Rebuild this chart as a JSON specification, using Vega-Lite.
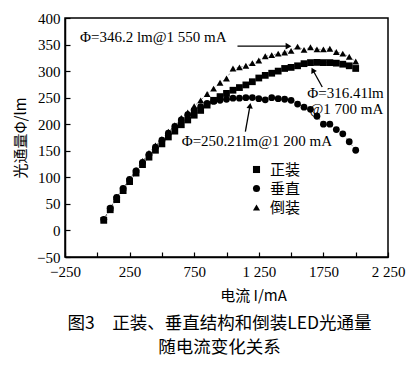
{
  "$schema": "https://vega.github.io/schema/vega-lite/v6.json",
  "width": 323,
  "height": 239,
  "autosize": "none",
  "padding": {"left": 65, "top": 18, "right": 30, "bottom": 120},
  "background": "white",
  "config": {
    "view": {"stroke": "black", "strokeWidth": 1.5},
    "axis": {
      "domainColor": "black", "domainWidth": 1.5, "tickColor": "black", "tickWidth": 1.2,
      "labelFont": "Liberation Serif", "labelFontSize": 15, "labelColor": "black",
      "titleFont": "Noto Sans CJK SC", "titleFontSize": 15, "titleFontWeight": "normal", "titleColor": "black",
      "grid": false, "labelOverlap": false, "labelFlush": false, "labelBound": false
    }
  },
  "title": {
    "text": ["图3　正装、垂直结构和倒装LED光通量", "随电流变化关系"],
    "orient": "bottom", "anchor": "middle", "offset": 12, "dx": -7,
    "font": "Noto Sans CJK SC", "fontSize": 17.5, "fontWeight": "normal", "lineHeight": 24, "color": "black"
  },
  "datasets": {
    "flux": [
      {"I": 50, "s": "正装", "F": 19}, {"I": 100, "s": "正装", "F": 39}, {"I": 150, "s": "正装", "F": 58}, {"I": 200, "s": "正装", "F": 75},
      {"I": 250, "s": "正装", "F": 92}, {"I": 300, "s": "正装", "F": 108}, {"I": 350, "s": "正装", "F": 124}, {"I": 400, "s": "正装", "F": 138},
      {"I": 450, "s": "正装", "F": 151}, {"I": 500, "s": "正装", "F": 163}, {"I": 550, "s": "正装", "F": 176}, {"I": 600, "s": "正装", "F": 187},
      {"I": 650, "s": "正装", "F": 199}, {"I": 700, "s": "正装", "F": 208}, {"I": 750, "s": "正装", "F": 217}, {"I": 800, "s": "正装", "F": 226},
      {"I": 850, "s": "正装", "F": 236}, {"I": 900, "s": "正装", "F": 245}, {"I": 950, "s": "正装", "F": 252}, {"I": 1000, "s": "正装", "F": 258},
      {"I": 1050, "s": "正装", "F": 264}, {"I": 1100, "s": "正装", "F": 269}, {"I": 1150, "s": "正装", "F": 274}, {"I": 1200, "s": "正装", "F": 280},
      {"I": 1250, "s": "正装", "F": 287}, {"I": 1300, "s": "正装", "F": 292}, {"I": 1350, "s": "正装", "F": 296}, {"I": 1400, "s": "正装", "F": 300},
      {"I": 1450, "s": "正装", "F": 305}, {"I": 1500, "s": "正装", "F": 307}, {"I": 1550, "s": "正装", "F": 310}, {"I": 1600, "s": "正装", "F": 314},
      {"I": 1650, "s": "正装", "F": 316}, {"I": 1700, "s": "正装", "F": 316.41}, {"I": 1750, "s": "正装", "F": 316}, {"I": 1800, "s": "正装", "F": 316},
      {"I": 1850, "s": "正装", "F": 315}, {"I": 1900, "s": "正装", "F": 313}, {"I": 1950, "s": "正装", "F": 310}, {"I": 2000, "s": "正装", "F": 305},

      {"I": 50, "s": "垂直", "F": 21}, {"I": 100, "s": "垂直", "F": 42}, {"I": 150, "s": "垂直", "F": 62}, {"I": 200, "s": "垂直", "F": 79},
      {"I": 250, "s": "垂直", "F": 96}, {"I": 300, "s": "垂直", "F": 112}, {"I": 350, "s": "垂直", "F": 128}, {"I": 400, "s": "垂直", "F": 143},
      {"I": 450, "s": "垂直", "F": 157}, {"I": 500, "s": "垂直", "F": 170}, {"I": 550, "s": "垂直", "F": 183}, {"I": 600, "s": "垂直", "F": 196},
      {"I": 650, "s": "垂直", "F": 208}, {"I": 700, "s": "垂直", "F": 218}, {"I": 750, "s": "垂直", "F": 226}, {"I": 800, "s": "垂直", "F": 233},
      {"I": 850, "s": "垂直", "F": 239}, {"I": 900, "s": "垂直", "F": 243}, {"I": 950, "s": "垂直", "F": 245}, {"I": 1000, "s": "垂直", "F": 247},
      {"I": 1050, "s": "垂直", "F": 249}, {"I": 1100, "s": "垂直", "F": 249}, {"I": 1150, "s": "垂直", "F": 250}, {"I": 1200, "s": "垂直", "F": 250.21},
      {"I": 1250, "s": "垂直", "F": 248}, {"I": 1300, "s": "垂直", "F": 246}, {"I": 1350, "s": "垂直", "F": 250}, {"I": 1400, "s": "垂直", "F": 248},
      {"I": 1450, "s": "垂直", "F": 247}, {"I": 1500, "s": "垂直", "F": 245}, {"I": 1550, "s": "垂直", "F": 238}, {"I": 1600, "s": "垂直", "F": 232},
      {"I": 1650, "s": "垂直", "F": 228}, {"I": 1700, "s": "垂直", "F": 215}, {"I": 1750, "s": "垂直", "F": 200}, {"I": 1800, "s": "垂直", "F": 200},
      {"I": 1850, "s": "垂直", "F": 190}, {"I": 1900, "s": "垂直", "F": 182}, {"I": 1950, "s": "垂直", "F": 167}, {"I": 2000, "s": "垂直", "F": 151},

      {"I": 50, "s": "倒装", "F": 21}, {"I": 100, "s": "倒装", "F": 42}, {"I": 150, "s": "倒装", "F": 63}, {"I": 200, "s": "倒装", "F": 80},
      {"I": 250, "s": "倒装", "F": 97}, {"I": 300, "s": "倒装", "F": 114}, {"I": 350, "s": "倒装", "F": 131}, {"I": 400, "s": "倒装", "F": 146},
      {"I": 450, "s": "倒装", "F": 160}, {"I": 500, "s": "倒装", "F": 172}, {"I": 550, "s": "倒装", "F": 186}, {"I": 600, "s": "倒装", "F": 198},
      {"I": 650, "s": "倒装", "F": 212}, {"I": 700, "s": "倒装", "F": 222}, {"I": 750, "s": "倒装", "F": 234}, {"I": 800, "s": "倒装", "F": 245},
      {"I": 850, "s": "倒装", "F": 257}, {"I": 900, "s": "倒装", "F": 267}, {"I": 950, "s": "倒装", "F": 278}, {"I": 1000, "s": "倒装", "F": 286},
      {"I": 1050, "s": "倒装", "F": 305}, {"I": 1100, "s": "倒装", "F": 307}, {"I": 1150, "s": "倒装", "F": 310}, {"I": 1200, "s": "倒装", "F": 315},
      {"I": 1250, "s": "倒装", "F": 320}, {"I": 1300, "s": "倒装", "F": 328}, {"I": 1350, "s": "倒装", "F": 330}, {"I": 1400, "s": "倒装", "F": 333},
      {"I": 1450, "s": "倒装", "F": 335}, {"I": 1500, "s": "倒装", "F": 338}, {"I": 1550, "s": "倒装", "F": 346.2}, {"I": 1600, "s": "倒装", "F": 340},
      {"I": 1650, "s": "倒装", "F": 345}, {"I": 1700, "s": "倒装", "F": 341}, {"I": 1750, "s": "倒装", "F": 341}, {"I": 1800, "s": "倒装", "F": 342},
      {"I": 1850, "s": "倒装", "F": 336}, {"I": 1900, "s": "倒装", "F": 333}, {"I": 1950, "s": "倒装", "F": 327}, {"I": 2000, "s": "倒装", "F": 318}
    ],
    "labels": [
      {"I": -134, "F": 364, "t": "Φ=346.2 lm@1 550 mA"},
      {"I": 1625, "F": 259, "t": "Φ=316.41lm"},
      {"I": 1642, "F": 229, "t": "@1 700 mA"},
      {"I": 653, "F": 169, "t": "Φ=250.21lm@1 200 mA"}
    ],
    "arrows": [
      {"I": 1085, "F": 347, "I2": 1480, "F2": 347},
      {"I": 1741, "F": 270, "I2": 1668, "F2": 302},
      {"I": 1146, "F": 186, "I2": 1182, "F2": 235}
    ]
  },
  "layer": [
    {
      "data": {"name": "flux"},
      "mark": {"type": "line", "color": "#444", "strokeWidth": 0.8, "strokeDash": [2, 2], "opacity": 0.7},
      "encoding": {
        "x": {"field": "I", "type": "quantitative", "scale": {"domain": [-250, 2250], "nice": false},
          "axis": {"title": "电流 I/mA", "values": [-250, 0, 250, 500, 750, 1000, 1250, 1500, 1750, 2000, 2250], "tickCount": 30,
            "tickSize": -5, "labelPadding": 12, "titlePadding": 9, "titleX": 188, "titleAlign": "center", "titleAnchor": "middle",
            "labelExpr": "datum.value == -250 ? '−250' : datum.value == 1250 ? '1 250' : datum.value == 2250 ? '2 250' : (datum.value == 250 || datum.value == 750 || datum.value == 1750) ? toString(datum.value) : ''"}},
        "y": {"field": "F", "type": "quantitative", "scale": {"domain": [-50, 400], "nice": false},
          "axis": {"title": "光通量Φ/lm", "values": [-50, 0, 50, 100, 150, 200, 250, 300, 350, 400], "tickCount": 30,
            "tickSize": -5, "labelPadding": 10, "titlePadding": 8,
            "labelExpr": "datum.value < 0 ? '−50' : toString(datum.value)"}},
        "detail": {"field": "s"}
      }
    },
    {
      "data": {"name": "flux"},
      "mark": {"type": "point", "filled": true, "color": "black", "opacity": 1, "size": 46},
      "encoding": {
        "x": {"field": "I", "type": "quantitative"},
        "y": {"field": "F", "type": "quantitative"},
        "shape": {"field": "s", "type": "nominal",
          "scale": {"domain": ["正装", "垂直", "倒装"], "range": ["square", "circle", "triangle-up"]},
          "legend": {"title": null, "orient": "none", "legendX": 184, "legendY": 144,
            "labelFont": "Noto Sans CJK SC", "labelFontSize": 15, "labelColor": "black",
            "symbolFillColor": "black", "symbolStrokeColor": "black", "symbolSize": 50, "symbolOpacity": 1,
            "rowPadding": 3, "labelOffset": 6, "padding": 0}}
      }
    },
    {
      "data": {"name": "labels"},
      "mark": {"type": "text", "align": "left", "baseline": "middle", "font": "Liberation Serif", "fontSize": 15, "color": "black"},
      "encoding": {
        "x": {"field": "I", "type": "quantitative"},
        "y": {"field": "F", "type": "quantitative"},
        "text": {"field": "t"}
      }
    },
    {
      "data": {"name": "arrows"},
      "mark": {"type": "rule", "color": "black", "strokeWidth": 1.3},
      "encoding": {
        "x": {"field": "I", "type": "quantitative"},
        "y": {"field": "F", "type": "quantitative"},
        "x2": {"field": "I2"},
        "y2": {"field": "F2"}
      }
    },
    {
      "data": {"name": "arrows"},
      "transform": [{"filter": "datum.I2 == 1480"}],
      "mark": {"type": "point", "shape": "triangle-right", "filled": true, "color": "black", "opacity": 1, "size": 45},
      "encoding": {
        "x": {"field": "I2", "type": "quantitative"},
        "y": {"field": "F2", "type": "quantitative"}
      }
    },
    {
      "data": {"name": "arrows"},
      "transform": [{"filter": "datum.I2 == 1668"}],
      "mark": {"type": "point", "shape": "triangle-up", "filled": true, "color": "black", "opacity": 1, "size": 40, "angle": -28},
      "encoding": {
        "x": {"field": "I2", "type": "quantitative"},
        "y": {"field": "F2", "type": "quantitative"}
      }
    },
    {
      "data": {"name": "arrows"},
      "transform": [{"filter": "datum.I2 == 1182"}],
      "mark": {"type": "point", "shape": "triangle-up", "filled": true, "color": "black", "opacity": 1, "size": 40, "angle": 8},
      "encoding": {
        "x": {"field": "I2", "type": "quantitative"},
        "y": {"field": "F2", "type": "quantitative"}
      }
    }
  ]
}
